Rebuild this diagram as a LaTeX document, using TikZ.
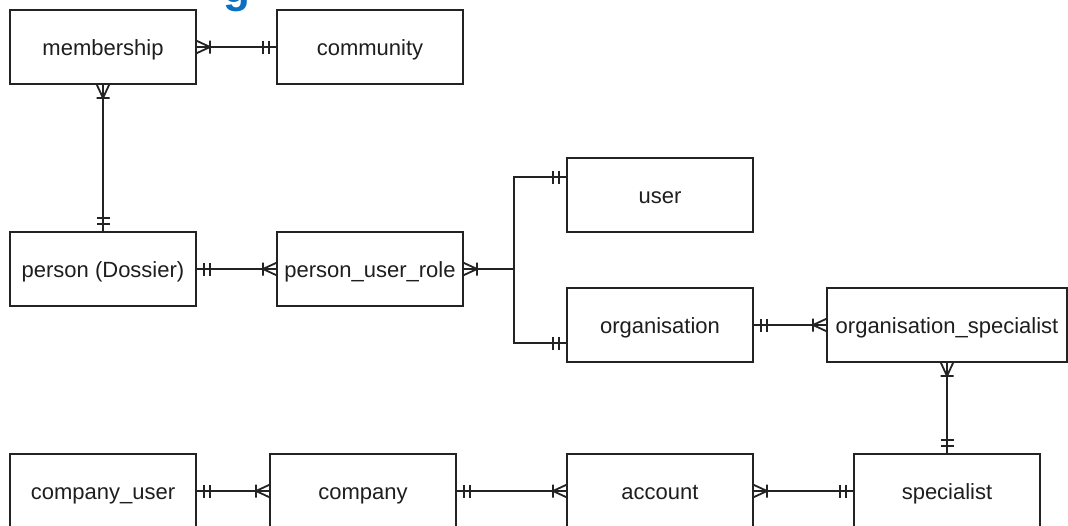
\documentclass[tikz,border=0pt]{standalone}
\usepackage{fontspec}
\setmainfont{Liberation Sans}

\definecolor{linec}{RGB}{35,35,35}
\definecolor{textc}{RGB}{30,30,30}
\definecolor{headblue}{RGB}{10,112,196}

\begin{document}
\begin{tikzpicture}[x=1pt,y=-1pt,
  entity/.style={draw=linec,line width=1.8pt,fill=white,minimum width=186pt,minimum height=74pt,
    inner sep=0pt,outer sep=0pt,text height=16pt,text depth=0pt,text=textc,font=\fontsize{22}{26}\selectfont},
  rel/.style={draw=linec,line width=1.8pt},
  % crow's foot markers; local x axis points away from the box
  pics/erone/.style={code={
    \draw[rel] (8pt,-6.5pt) -- (8pt,6.5pt) (14pt,-6.5pt) -- (14pt,6.5pt);}},
  pics/ermany/.style={code={
    \draw[rel,line join=round] (0pt,6.5pt) -- (14pt,0pt) -- (0pt,-6.5pt)
      (14pt,-6.5pt) -- (14pt,6.5pt);}}]
\useasboundingbox (0,0) rectangle (1068,525);
\clip (0,0) rectangle (1068,525);
\fill[white] (0,0) rectangle (1068,525);

% cropped heading fragment
\node[anchor=base,inner sep=0pt,text=headblue,font=\fontsize{44}{48}\selectfont\bfseries] (head) at (237,2) {g};

% entities
\node[entity] (membership) at (103,47) {membership};
\node[entity] (community) at (370,47) {community};
\node[entity] (person) at (103,269) {person (Dossier)};
\node[entity] (pur) at (370,269) {person\_user\_role};
\node[entity] (user) at (660,195) {user};
\node[entity] (org) at (660,325) {organisation};
\node[entity,minimum width=240pt] (orgspec) at (947,325) {organisation\_specialist};
\node[entity] (cuser) at (103,491) {company\_user};
\node[entity] (company) at (363,491) {company};
\node[entity] (account) at (660,491) {account};
\node[entity] (specialist) at (947,491) {specialist};

\coordinate (j) at (514,269);

% connectors
\draw[rel] (membership) -- (community);
\draw[rel] (membership) -- (person);
\draw[rel] (person) -- (pur);
\draw[rel] (pur.east) -- (j) |- ([yshift=18pt]user.west);
\draw[rel] (j) |- ([yshift=-18pt]org.west);
\draw[rel] (org) -- (orgspec);
\draw[rel] (orgspec) -- (specialist);
\draw[rel] (cuser) -- (company);
\draw[rel] (company) -- (account);
\draw[rel] (account) -- (specialist);

% cardinality markers
\pic at (membership.east) {ermany};
\pic[rotate=180] at (community.west) {erone};
\pic[rotate=-90] at (membership.south) {ermany};
\pic[rotate=90] at (person.north) {erone};
\pic at (person.east) {erone};
\pic[rotate=180] at (pur.west) {ermany};
\pic at (pur.east) {ermany};
\pic[rotate=180] at ([yshift=18pt]user.west) {erone};
\pic[rotate=180] at ([yshift=-18pt]org.west) {erone};
\pic at (org.east) {erone};
\pic[rotate=180] at (orgspec.west) {ermany};
\pic[rotate=-90] at (orgspec.south) {ermany};
\pic[rotate=90] at (specialist.north) {erone};
\pic at (cuser.east) {erone};
\pic[rotate=180] at (company.west) {ermany};
\pic at (company.east) {erone};
\pic[rotate=180] at (account.west) {ermany};
\pic at (account.east) {ermany};
\pic[rotate=180] at (specialist.west) {erone};
\end{tikzpicture}
\end{document}
